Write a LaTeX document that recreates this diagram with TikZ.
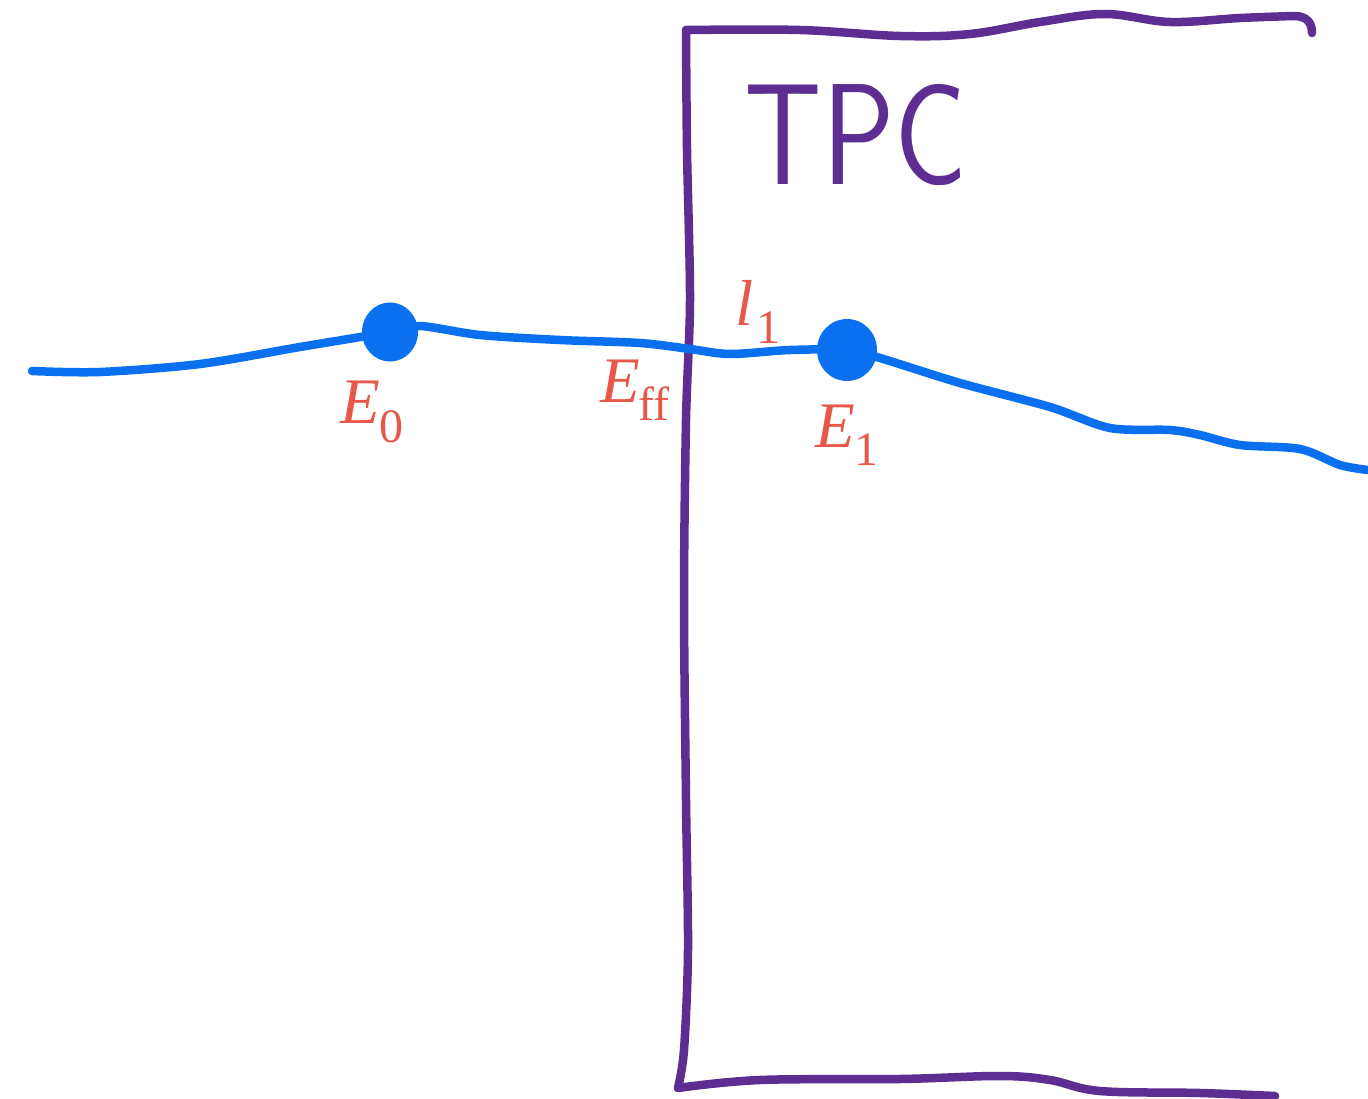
\documentclass[tikz,border=0pt]{standalone}
\usepackage{fontspec}
\usetikzlibrary{shapes.geometric}
\setmainfont{Liberation Serif}
\definecolor{tpcpurple}{RGB}{94,45,145}
\definecolor{trackblue}{RGB}{10,112,240}
\definecolor{labred}{RGB}{232,88,74}
\newcommand\lowsub[1]{\raisebox{-0.28em}{\fontsize{48}{48}\selectfont #1}}
\begin{document}
\begin{tikzpicture}[x=1pt,y=-1pt]
\tikzset{
  wall/.style={draw=tpcpurple, line width=8.5, line cap=round, line join=round},
  track/.style={draw=trackblue, line width=8.5, line cap=round, line join=round},
  vertex/.style={ellipse, fill=trackblue, inner sep=0},
  lab/.style={text=labred, font=\fontsize{65}{70}\selectfont, inner sep=0},
  tpclabel/.style={text=tpcpurple, font=\sffamily\fontsize{144}{150}\selectfont, inner sep=0, xscale=0.84},
}
\useasboundingbox (0,0) rectangle (1368,1099);
% TPC volume outline
\coordinate (tl) at (686,30);
\coordinate (bl) at (678,1088);
\coordinate (tr) at (1312,33);
\coordinate (br) at (1275,1096);
\draw[wall] plot[smooth, tension=0.6] coordinates {(tl) (800,30) (900,36) (970,34) (1040,22) (1105,14) (1170,22) (1240,18) (1294,16)}
  .. controls (1308,16) and (1312,24) .. (tr);
\draw[wall] plot[smooth, tension=0.5] coordinates {(tl) (687,150) (690,300) (686,420) (684,600) (686,800) (688,950) (684,1050) (bl)};
\draw[wall] plot[smooth, tension=0.6] coordinates {(bl) (760,1080) (900,1079) (1000,1076) (1050,1080) (1100,1091) (1200,1093) (br)};
\node[tpclabel] (tpc) at (856,135) {TPC};
% track with vertices
\coordinate (s) at (32,371);
\coordinate (t) at (1368,470);
\coordinate (e0c) at (390,332);
\coordinate (e1c) at (847,350);
\draw[track] plot[smooth, tension=0.5] coordinates {(s) (100,372) (200,364) (300,347) (e0c) (420,326) (480,335) (560,340) (640,343) (690,349) (730,354) (790,350) (e1c) (880,358) (960,383) (1050,407) (1110,428) (1170,430) (1200,435) (1240,445) (1300,449) (1340,465) (t)};
\node[vertex, minimum width=56, minimum height=59] (e0) at (e0c) {};
\node[vertex, minimum width=60, minimum height=62] (e1) at (e1c) {};
% labels
\node[lab] (le0) at (372,412) {\textit{E}\lowsub{0}};
\node[lab] (leff) at (635,390) {\textit{E}\kern-2pt\lowsub{ff}};
\node[lab] (ll1) at (758,312) {\textit{l}\kern2pt\lowsub{1}};
\node[lab] (le1) at (847,435) {\textit{E}\lowsub{1}};
\end{tikzpicture}
\end{document}
